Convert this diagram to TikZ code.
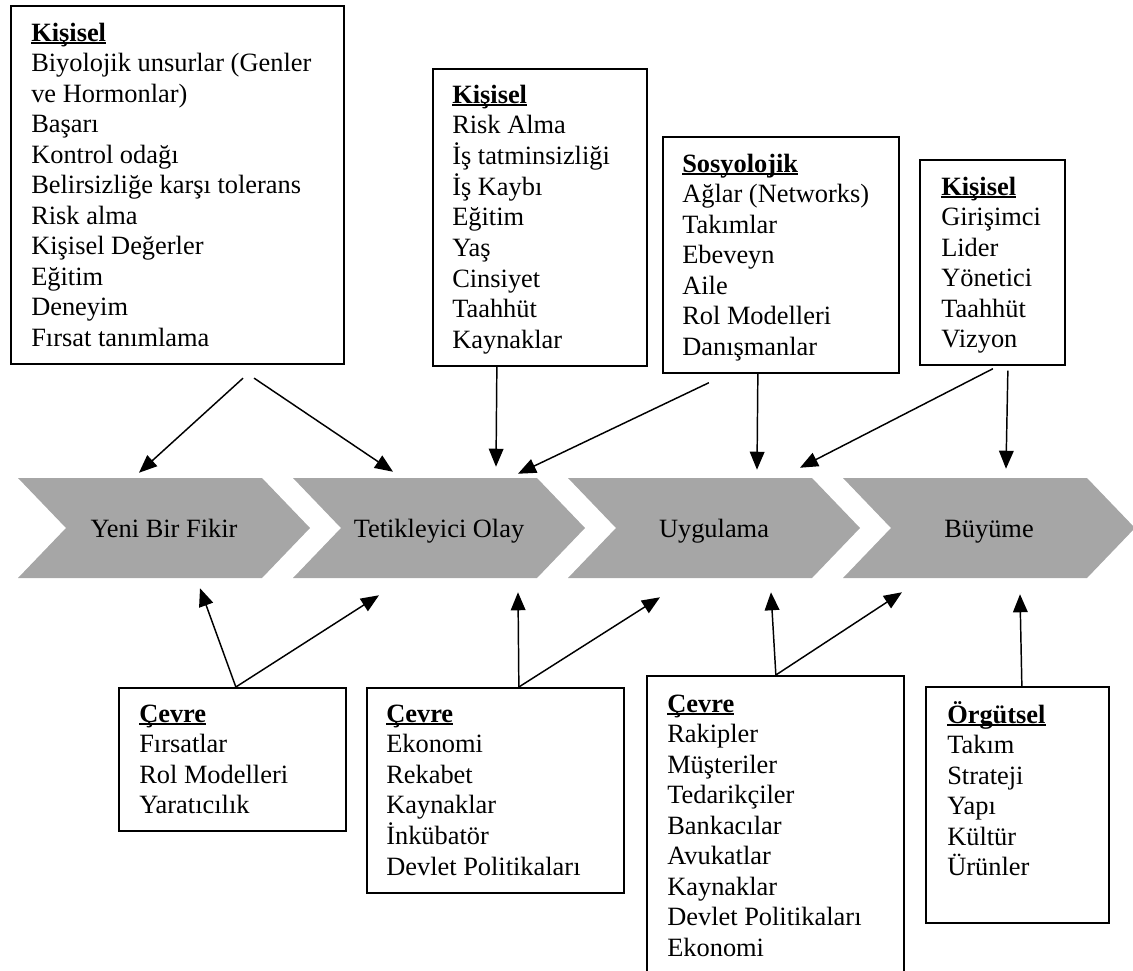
\documentclass[tikz,border=0pt]{standalone}
\usepackage{fontspec}
\setmainfont{Liberation Serif}
\usepackage{xcolor}
\usetikzlibrary{arrows.meta, calc}
\definecolor{evregri}{HTML}{A6A6A6}
\newsavebox\BaslikKutu
\newcommand\Baslik[1]{\sbox\BaslikKutu{\textbf{#1}}\usebox\BaslikKutu\llap{\rule[-2.4pt]{\wd\BaslikKutu}{1.8pt}}}
\newcommand\Liste[1]{\begin{tabular}[t]{@{}l@{}}#1\end{tabular}}

\begin{document}
\begin{tikzpicture}[x=0.75pt, y=-0.75pt,
	kutu/.style 2 args={draw, line width=1.3pt, anchor=north west, inner sep=0pt,
		minimum width=#1*0.75pt, minimum height=#2*0.75pt},
	liste/.style={anchor=base west, inner sep=0pt, font=\fontsize{19.8}{22.9}\selectfont},
	evre/.style={inner sep=0pt, minimum width=183pt, minimum height=75pt,
		text height=17pt, text depth=3.5pt, font=\fontsize{19.8}{22.9}\selectfont},
	ok/.style={line width=1.1pt, -{Triangle[length=13.5pt, width=11pt]}}]
	\clip (0,0) rectangle (1133,971);
	% Define the distance between chevrons
	\newcommand\EvreAdim{275}

	% Draw the chevrons
	\foreach \i/\ad in {1/Yeni Bir Fikir, 2/Tetikleyici Olay, 3/Uygulama, 4/Büyüme} {
		\pgfmathsetmacro\L{18+(\i-1)*\EvreAdim}
		\fill[evregri] (\L,478) -- ++(244,0) -- ++(48,50) -- ++(-48,50) -- ++(-244,0) -- ++(48,-50) -- cycle;
		\node[evre] (f\i) at (\L+146,528) {\ad};
	}

	% Upper boxes
	\node[kutu={333}{358}, line width=1.6pt] (k1) at (10,5) {};
	\node[liste] (k1t) at ($(k1.north west)+(21,36)$) {\Liste{\Baslik{Kişisel}\\ Biyolojik unsurlar (Genler\\ ve Hormonlar)\\ Başarı\\ Kontrol odağı\\ Belirsizliğe karşı tolerans\\ Risk alma\\ Kişisel Değerler\\ Eğitim\\ Deneyim\\ Fırsat tanımlama}};
	\node[kutu={214}{297}] (k2) at (432,68) {};
	\node[liste] (k2t) at ($(k2.north west)+(20,35)$) {\Liste{\Baslik{Kişisel}\\ Risk Alma\\ İş tatminsizliği\\ İş Kaybı\\ Eğitim\\ Yaş\\ Cinsiyet\\ Taahhüt\\ Kaynaklar}};
	\node[kutu={236}{236}] (k3) at (662,136) {};
	\node[liste] (k3t) at ($(k3.north west)+(20,36)$) {\Liste{\Baslik{Sosyolojik}\\ Ağlar (Networks)\\ Takımlar\\ Ebeveyn\\ Aile\\ Rol Modelleri\\ Danışmanlar}};
	\node[kutu={145}{205}] (k4) at (919,159) {};
	\node[liste] (k4t) at ($(k4.north west)+(22,36)$) {\Liste{\Baslik{Kişisel}\\ Girişimci\\ Lider\\ Yönetici\\ Taahhüt\\ Vizyon}};

	% Lower boxes
	\node[kutu={227}{143}] (c1) at (118,687) {};
	\node[liste] (c1t) at ($(c1.north west)+(21,35)$) {\Liste{\Baslik{Çevre}\\ Fırsatlar\\ Rol Modelleri\\ Yaratıcılık}};
	\node[kutu={257}{205}] (c2) at (366,687) {};
	\node[liste] (c2t) at ($(c2.north west)+(20,35)$) {\Liste{\Baslik{Çevre}\\ Ekonomi\\ Rekabet\\ Kaynaklar\\ İnkübatör\\ Devlet Politikaları}};
	\node[kutu={257}{330}] (c3) at (646,675) {};
	\node[liste] (c3t) at ($(c3.north west)+(21,37)$) {\Liste{\Baslik{Çevre}\\ Rakipler\\ Müşteriler\\ Tedarikçiler\\ Bankacılar\\ Avukatlar\\ Kaynaklar\\ Devlet Politikaları\\ Ekonomi}};
	\node[kutu={183}{236}] (o1) at (925,686) {};
	\node[liste] (o1t) at ($(o1.north west)+(22,37)$) {\Liste{\Baslik{Örgütsel}\\ Takım\\ Strateji\\ Yapı\\ Kültür\\ Ürünler}};

	% Arrows from the upper boxes
	\draw[ok] ($(k1.south)+(65.5,13)$) -- ($(f1.north)+(-25,-5)$);
	\draw[ok] ($(k1.south)+(76.5,13)$) -- ($(f2.north)+(-46,-6)$);
	\draw[ok] ($(k2.south)+(-43,0)$) -- ($(f2.north)+(57,-11)$);
	\draw[ok] ($(k3.south)+(-72,9)$) -- ($(f2.north)+(79,-4)$);
	\draw[ok] ($(k3.south)+(-23,0)$) -- ($(f3.north)+(43,-8)$);
	\draw[ok] ($(k4.south)+(0.5,3)$) -- ($(f3.north)+(86,-10)$);
	\draw[ok] ($(k4.south)+(15.5,5)$) -- ($(f4.north)+(17,-9)$);

	% Arrows from the lower boxes
	\draw[ok] ($(c1.north)+(3.5,0)$) -- ($(f1.south)+(36,10)$);
	\draw[ok] ($(c1.north)+(3.5,0)$) -- ($(f2.south)+(-60,17)$);
	\draw[ok] ($(c2.north)+(23.5,0)$) -- ($(f2.south)+(79,14)$);
	\draw[ok] ($(c2.north)+(23.5,0)$) -- ($(f3.south)+(-54,19)$);
	\draw[ok] ($(c3.north)+(0.5,0)$) -- ($(f3.south)+(57,14)$);
	\draw[ok] ($(c3.north)+(0.5,0)$) -- ($(f4.south)+(-87,14)$);
	\draw[ok] ($(o1.north)+(4.5,0)$) -- ($(f4.south)+(31,16)$);
\end{tikzpicture}
\end{document}
